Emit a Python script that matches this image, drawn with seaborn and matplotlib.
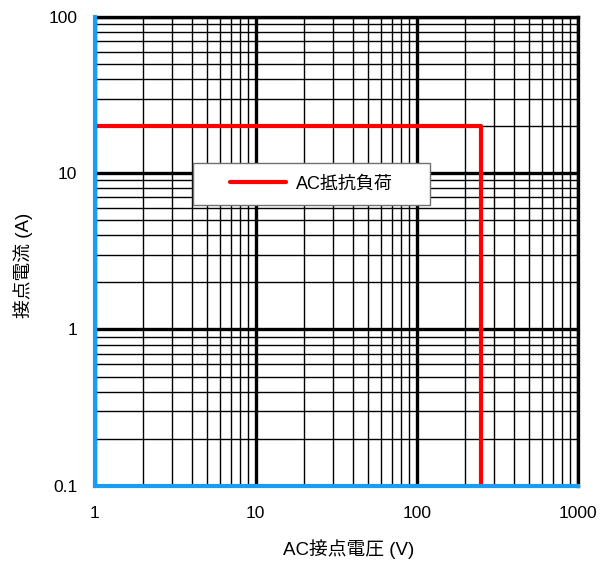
import pandas as pd
import numpy as np
import matplotlib
matplotlib.use("Agg")
import matplotlib.pyplot as plt
import seaborn as sns
from matplotlib.ticker import LogLocator, FixedLocator, FixedFormatter, NullFormatter

# data: AC resistive load limit
voltage = [1, 250, 250]
current = [20, 20, 0.1]
series_label = "AC抵抗負荷"

x_ticks = [1, 10, 100, 1000]
x_labels = ["1", "10", "100", "1000"]
y_ticks = [0.1, 1, 10, 100]
y_labels = ["0.1", "1", "10", "100"]

sns.set_style("white", {"text.color": "black", "axes.labelcolor": "black",
                        "xtick.color": "black", "ytick.color": "black"})
plt.rcParams['font.family'] = ['Liberation Sans', 'Noto Sans CJK JP']

df = pd.DataFrame({"voltage": voltage, "current": current})

fig = plt.figure(figsize=(6, 5.61), dpi=100)
ax = fig.add_axes([0.158, 0.134, 0.805, 0.836])
ax.set_xscale("log")
ax.set_yscale("log")
ax.set_xlim(1, 1000)
ax.set_ylim(0.1, 100)

# grid
ax.xaxis.set_minor_locator(LogLocator(base=10, subs=np.arange(2, 10)))
ax.yaxis.set_minor_locator(LogLocator(base=10, subs=np.arange(2, 10)))
ax.xaxis.set_minor_formatter(NullFormatter())
ax.yaxis.set_minor_formatter(NullFormatter())
ax.grid(which="major", color="black", linewidth=2.4)
ax.grid(which="minor", color="black", linewidth=1.0)
ax.set_axisbelow(True)

sns.lineplot(data=df, x="voltage", y="current", sort=False, estimator=None,
             color="#ff0000", linewidth=3.0, label=series_label, ax=ax, zorder=3)

blue = "#1a9cf0"
for side in ["left", "bottom"]:
    ax.spines[side].set_color(blue)
    ax.spines[side].set_linewidth(3.0)
    ax.spines[side].set_zorder(4)
for side in ["top", "right"]:
    ax.spines[side].set_color("black")
    ax.spines[side].set_linewidth(2.4)

ax.xaxis.set_major_locator(FixedLocator(x_ticks))
ax.xaxis.set_major_formatter(FixedFormatter(x_labels))
ax.yaxis.set_major_locator(FixedLocator(y_ticks))
ax.yaxis.set_major_formatter(FixedFormatter(y_labels))
ax.tick_params(which="major", direction="out", length=2.5, width=3.0, color=blue,
               labelcolor="black", labelsize=12.5)
ax.tick_params(which="minor", length=0)
ax.tick_params(axis="x", pad=12)
ax.tick_params(axis="y", pad=10)

ax.set_xlabel("AC接点電圧 (V)", fontsize=13.5, color="black")
ax.set_ylabel("接点電流 (A)", fontsize=13.5, color="black")
ax.xaxis.set_label_coords(0.525, -0.113)
ax.yaxis.set_label_coords(-0.128, 0.471)

leg = ax.legend(loc="center", bbox_to_anchor=(0.203, 0.599, 0.491, 0.09),
                mode="expand", alignment="center", fontsize=13,
                handlelength=3.1, handletextpad=0.5, frameon=True,
                fancybox=False, borderpad=0.69, borderaxespad=0,
                labelcolor="black")
# keep the entry centred inside the stretched box
leg._legend_handle_box.mode = "fixed"
leg.get_frame().set_edgecolor("#707070")
leg.get_frame().set_linewidth(1.0)
leg.get_frame().set_alpha(1)

fig.savefig("out.png", dpi=100)
